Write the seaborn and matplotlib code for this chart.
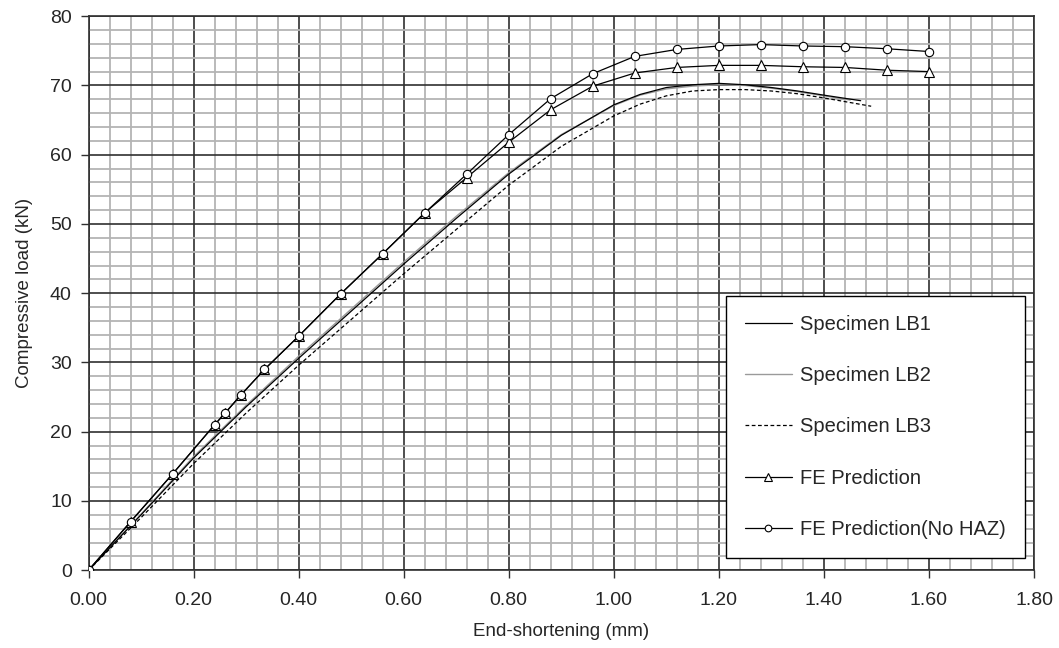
import numpy as np
import pandas as pd
import matplotlib
matplotlib.use("Agg")
import matplotlib.pyplot as plt
import seaborn as sns
from matplotlib.ticker import MultipleLocator, FormatStrFormatter

# ---------------- data ----------------
lb1_x = [0, 0.1, 0.2, 0.3, 0.4, 0.5, 0.6, 0.7, 0.8, 0.9, 1.0, 1.05, 1.1, 1.15, 1.2, 1.25, 1.3, 1.35, 1.4, 1.47]
lb1_y = [0, 8.0, 16.2, 23.6, 30.6, 37.4, 44.2, 50.8, 57.2, 62.8, 67.2, 68.7, 69.7, 70.1, 70.3, 70.1, 69.7, 69.2, 68.6, 67.8]

lb2_x = [0, 0.1, 0.2, 0.3, 0.4, 0.5, 0.6, 0.7, 0.8, 0.9, 1.0, 1.05, 1.1, 1.15, 1.2, 1.25, 1.3, 1.35, 1.4, 1.45]
lb2_y = [0, 8.1, 16.4, 23.8, 30.9, 37.7, 44.5, 51.1, 57.4, 62.9, 67.1, 68.6, 69.5, 69.9, 70.1, 70.0, 69.6, 69.1, 68.5, 67.9]

lb3_x = [0, 0.1, 0.2, 0.3, 0.4, 0.5, 0.6, 0.7, 0.8, 0.9, 1.0, 1.05, 1.1, 1.15, 1.2, 1.25, 1.3, 1.35, 1.4, 1.49]
lb3_y = [0, 7.6, 15.4, 22.7, 29.6, 36.2, 42.8, 49.2, 55.6, 61.2, 65.6, 67.3, 68.5, 69.2, 69.4, 69.4, 69.2, 68.8, 68.2, 67.0]

fe_x = [0, 0.08, 0.16, 0.24, 0.26, 0.29, 0.335, 0.40, 0.48, 0.56, 0.64, 0.72, 0.80, 0.88,
        0.96, 1.04, 1.12, 1.20, 1.28, 1.36, 1.44, 1.52, 1.60]
fe_y = [0, 7.0, 13.9, 21.0, 22.7, 25.3, 29.0, 33.8, 39.9, 45.7, 51.6, 56.7, 61.8, 66.5,
        69.9, 71.8, 72.6, 72.9, 72.9, 72.7, 72.6, 72.2, 72.0]

fenh_x = [0, 0.08, 0.16, 0.24, 0.26, 0.29, 0.335, 0.40, 0.48, 0.56, 0.64, 0.72, 0.80, 0.88,
          0.96, 1.04, 1.12, 1.20, 1.28, 1.36, 1.44, 1.52, 1.60]
fenh_y = [0, 7.0, 13.9, 21.0, 22.7, 25.3, 29.0, 33.8, 39.9, 45.7, 51.6, 57.2, 62.9, 68.1,
          71.7, 74.2, 75.2, 75.7, 75.9, 75.7, 75.6, 75.3, 74.9]

labels = ["Specimen LB1", "Specimen LB2", "Specimen LB3", "FE Prediction", "FE Prediction(No HAZ)"]

x_ticks = [0.0, 0.2, 0.4, 0.6, 0.8, 1.0, 1.2, 1.4, 1.6, 1.8]
y_ticks = [0, 10, 20, 30, 40, 50, 60, 70, 80]

# ---------------- plot ----------------
sns.set_style("white")
plt.rcParams['font.family'] = ['Liberation Sans', 'DejaVu Sans']

fig = plt.figure(figsize=(10.59, 6.48), dpi=100)
ax = fig.add_axes([0.0836, 0.120, 0.8928, 0.855])

sns.lineplot(x=lb1_x, y=lb1_y, ax=ax, color="black", lw=0.9, label=labels[0],
             estimator=None, sort=False, zorder=5)
sns.lineplot(x=lb2_x, y=lb2_y, ax=ax, color="#9a9a9a", lw=1.0, label=labels[1],
             estimator=None, sort=False, zorder=4)
sns.lineplot(x=lb3_x, y=lb3_y, ax=ax, color="black", lw=0.9, label=labels[2],
             estimator=None, sort=False, zorder=4, linestyle=(0, (3, 2)))
sns.lineplot(x=fe_x, y=fe_y, ax=ax, color="black", lw=0.9, label=labels[3],
             estimator=None, sort=False, zorder=6, marker="^", markersize=7,
             markerfacecolor="white", markeredgecolor="black", markeredgewidth=0.8)
sns.lineplot(x=fenh_x, y=fenh_y, ax=ax, color="black", lw=0.9, label=labels[4],
             estimator=None, sort=False, zorder=6, marker="o", markersize=6,
             markerfacecolor="white", markeredgecolor="black", markeredgewidth=0.8)

ax.set_xlim(0, 1.8)
ax.set_ylim(0, 80)
ax.set_xticks(x_ticks)
ax.set_yticks(y_ticks)
ax.xaxis.set_major_formatter(FormatStrFormatter('%.2f'))
ax.xaxis.set_minor_locator(MultipleLocator(0.04))
ax.yaxis.set_minor_locator(MultipleLocator(2))

ax.grid(which='minor', color='#b4b4b4', lw=1.3, zorder=0)
ax.grid(which='major', color='#303030', lw=1.2, zorder=1)
ax.set_axisbelow(True)

for s in ax.spines.values():
    s.set_color('#303030')
    s.set_linewidth(1.2)

ax.tick_params(axis='both', which='major', direction='out', length=6, width=1.0,
               color='#303030', labelsize=14, bottom=True, left=True)
ax.tick_params(axis='x', which='major', pad=10)
ax.tick_params(axis='y', which='major', pad=6)
ax.tick_params(axis='both', which='minor', length=0)

ax.set_xlabel("End-shortening (mm)", fontsize=13.5, labelpad=10)
ax.set_ylabel("Compressive load (kN)", fontsize=13.5, labelpad=12)

leg = ax.legend(loc='lower right', bbox_to_anchor=(0.99, 0.022), fontsize=14.5,
                frameon=True, fancybox=False, edgecolor='black', framealpha=1,
                labelspacing=1.6, handlelength=2.3, handletextpad=0.4,
                borderpad=0.95, borderaxespad=0, markerscale=0.8)
leg.get_frame().set_linewidth(1.0)

fig.savefig("out.png", dpi=100)
